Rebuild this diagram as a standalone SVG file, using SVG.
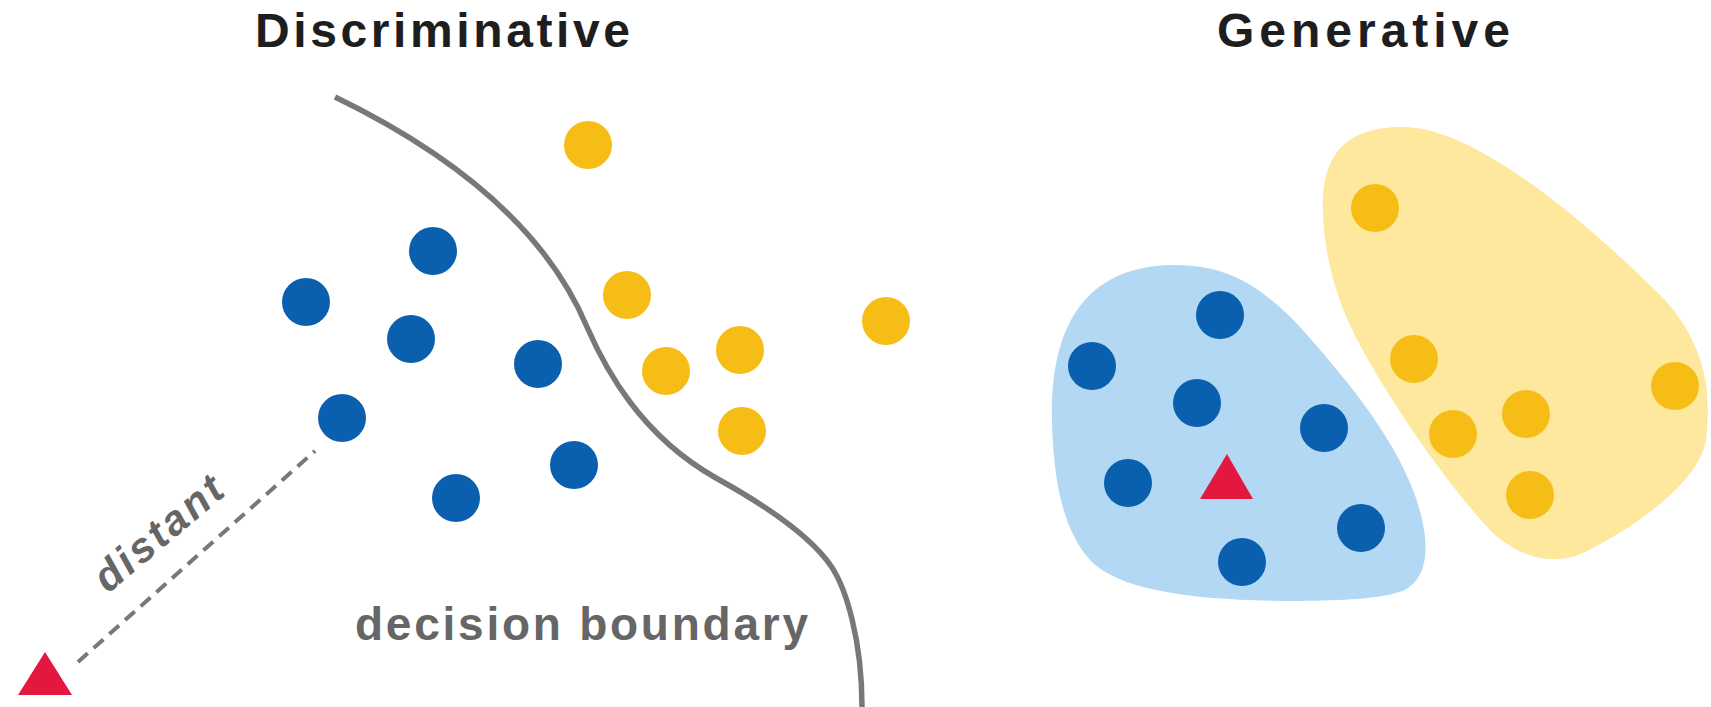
<svg xmlns="http://www.w3.org/2000/svg" width="1711" height="707" viewBox="0 0 1711 707">
<style>
.title{font-family:"Liberation Sans",Arial,sans-serif;font-weight:bold;font-size:48px;fill:#1e1e1e}
.lbl{font-family:"Liberation Sans",Arial,sans-serif;font-weight:bold;fill:#666}
.b{fill:#0a5fae}
.y{fill:#f6bd16}
.tri{fill:#e4173e}
</style>
<rect width="1711" height="707" fill="#fff"/>
<g id="titles">
<text class="title" x="255" y="47" textLength="375" lengthAdjust="spacing">Discriminative</text>
<text class="title" x="1217" y="47" textLength="293" lengthAdjust="spacing">Generative</text>
</g>
<g id="discriminative">
<path id="boundary" d="M335,97 C430,143 540,215 587,327 C605,368 640,435 716,478 C745,494 805,528 831,566 C846,588 862,640 862,707" fill="none" stroke="#787878" stroke-width="5.5"/>
<g id="connectors">
<line x1="78" y1="662" x2="315" y2="451" stroke="#787878" stroke-width="4" stroke-dasharray="13 8"/>
</g>
<text class="lbl" x="355" y="640" font-size="46" textLength="453" lengthAdjust="spacing">decision boundary</text>
<text class="lbl" font-size="42" font-style="italic" transform="translate(108,594) rotate(-40)" textLength="155" lengthAdjust="spacing">distant</text>
<polygon class="tri" points="45,652 18,695 72,695"/>
<circle class="y" cx="588" cy="145" r="24"/>
<circle class="b" cx="433" cy="251" r="24"/>
<circle class="b" cx="306" cy="302" r="24"/>
<circle class="b" cx="411" cy="339" r="24"/>
<circle class="b" cx="538" cy="364" r="24"/>
<circle class="b" cx="342" cy="418" r="24"/>
<circle class="b" cx="456" cy="498" r="24"/>
<circle class="b" cx="574" cy="465" r="24"/>
<circle class="y" cx="627" cy="295" r="24"/>
<circle class="y" cx="666" cy="371" r="24"/>
<circle class="y" cx="740" cy="350" r="24"/>
<circle class="y" cx="742" cy="431" r="24"/>
<circle class="y" cx="886" cy="321" r="24"/>
</g>
<g id="generative">
<path id="blue-cluster" d="M1052,420 C1050,320 1090,266 1173,265 C1230,264 1265,290 1300,327 C1340,372 1390,430 1413,490 C1430,535 1432,575 1405,590 C1380,600 1340,600 1300,601 C1200,601 1120,592 1090,560 C1060,527 1053,470 1052,420 Z" fill="#b3d8f3"/>
<path id="yellow-cluster" d="M1323,215 C1320,150 1350,127 1403,127 C1480,127 1600,235 1665,300 C1705,345 1712,390 1706,440 C1698,485 1630,530 1583,553 C1555,565 1525,560 1495,535 C1455,495 1395,410 1360,345 C1335,300 1325,255 1323,215 Z" fill="#fde89d"/>
<circle class="b" cx="1220" cy="315" r="24"/>
<circle class="b" cx="1092" cy="366" r="24"/>
<circle class="b" cx="1197" cy="403" r="24"/>
<circle class="b" cx="1324" cy="428" r="24"/>
<circle class="b" cx="1128" cy="483" r="24"/>
<circle class="b" cx="1361" cy="528" r="24"/>
<circle class="b" cx="1242" cy="562" r="24"/>
<polygon class="tri" points="1227,454 1200,499 1253,499"/>
<circle class="y" cx="1375" cy="208" r="24"/>
<circle class="y" cx="1414" cy="359" r="24"/>
<circle class="y" cx="1675" cy="386" r="24"/>
<circle class="y" cx="1526" cy="414" r="24"/>
<circle class="y" cx="1453" cy="434" r="24"/>
<circle class="y" cx="1530" cy="495" r="24"/>
</g>
</svg>
